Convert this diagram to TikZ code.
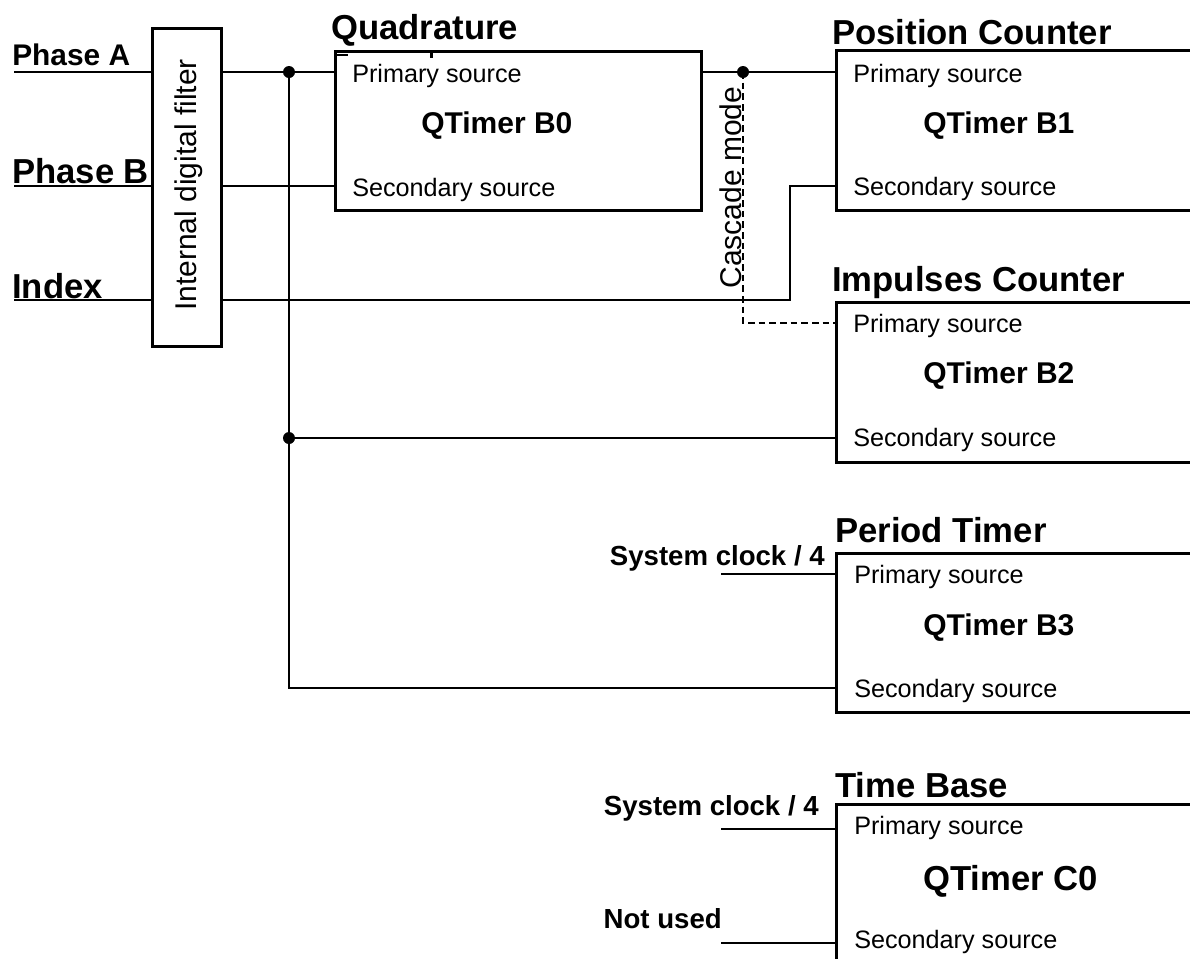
\documentclass[tikz,border=0pt]{standalone}
\usepackage{fontspec}
\setmainfont{Liberation Sans}
\begin{document}
\begin{tikzpicture}[x=0.75pt,y=-0.75pt,
  box/.style={draw, line width=2.25pt, fill=white, inner sep=0, anchor=north west},
  wire/.style={line width=1.1pt},
  cas/.style={line width=1.1pt, dash pattern=on 5pt off 3pt},
  ttl/.style={font=\bfseries\fontsize{26}{30}\selectfont, anchor=base west, inner sep=0},
  src/.style={font=\fontsize{18.9}{22}\selectfont, anchor=base west, inner sep=0},
  qt/.style={font=\bfseries\fontsize{22.5}{26}\selectfont, anchor=base west, inner sep=0},
  inl/.style={font=\bfseries\fontsize{20.7}{24}\selectfont, inner sep=0},
  big/.style={font=\bfseries\fontsize{26}{30}\selectfont, anchor=base west, inner sep=0},
  rot/.style={rotate=90, font=\fontsize{22.5}{26}\selectfont, inner sep=0},
  jdot/.style={circle, fill, draw=none, inner sep=0, minimum size=9pt}
]
\clip (0,0) rectangle (1190,958);
\fill[white] (0,0) rectangle (1190,958);

% titles
\node[ttl] (tq) at (331,39) {Quadrature};
\node[ttl] (tp) at (832,44) {Position Counter};
\node[ttl] (ti) at (832,291) {Impulses Counter};
\node[ttl] (tt) at (835,542) {Period Timer};
\node[ttl] (tb) at (835,797) {Time Base};

% input labels
\node[font=\bfseries\fontsize{22.4}{26}\selectfont, anchor=base west, inner sep=0] (lA) at (12,65) {Phase A};
\node[big] (lB) at (12,183) {Phase B};
\node[big] (lI) at (12,298) {Index};

% filter
\node[box, minimum width=51.75pt, minimum height=238.5pt] (filt) at (151,27) {};
\node[rot] (filttxt) at (189,185) {Internal digital filter};

% boxes
\node[box, minimum width=274.5pt, minimum height=119.25pt] (b0) at (334,50) {};
\node[box, minimum width=296pt, minimum height=120pt] (b1) at (835,49) {};
\node[box, minimum width=296pt, minimum height=120pt] (b2) at (835,301) {};
\node[box, minimum width=296pt, minimum height=119.25pt] (b3) at (835,552) {};
\node[box, minimum width=296pt, minimum height=130pt] (c0) at (835,803) {};

% hidden-title fragments
\fill (336,53.5) rectangle (348,56);
\fill (430,53) rectangle (432.5,57.5);

% box texts
\node[src] (b0p) at (352,82) {Primary source};
\node[qt] (b0n) at (421,133) {QTimer B0};
\node[src] (b0s) at (352,196) {Secondary source};
\node[src] (b1p) at (853,82) {Primary source};
\node[qt] (b1n) at (923,133) {QTimer B1};
\node[src] (b1s) at (853,195) {Secondary source};
\node[src] (b2p) at (853,332) {Primary source};
\node[qt] (b2n) at (923,383) {QTimer B2};
\node[src] (b2s) at (853,446) {Secondary source};
\node[src] (b3p) at (854,583) {Primary source};
\node[qt] (b3n) at (923,635) {QTimer B3};
\node[src] (b3s) at (854,697) {Secondary source};
\node[src] (c0p) at (854,834) {Primary source};
\node[big] (c0n) at (923,890) {QTimer C0};
\node[src] (c0s) at (854,948) {Secondary source};

% cascade label
\node[rot, anchor=base] (casc) at (741,187.5) {Cascade mode};

% external labels
\node[inl, anchor=base east] (sc1t) at (825,565) {System clock / 4};
\node[inl, anchor=base east] (sc2t) at (819,815) {System clock / 4};
\node[inl, anchor=base east] (nut) at (722,928) {Not used};

% coordinates
\coordinate (inA) at (14,72);
\coordinate (inB) at (14,186);
\coordinate (inI) at (14,300);
\coordinate (j1) at (289,72);
\coordinate (j2) at (289,438);
\coordinate (j3) at (743,72);
\coordinate (xk) at (790,186);
\coordinate (sc1) at (721,574);
\coordinate (sc2) at (721,829);
\coordinate (nu) at (721,943);

% wires
\draw[wire] (inA) -- (inA -| filt.west);
\draw[wire] (inB) -- (inB -| filt.west);
\draw[wire] (inI) -- (inI -| filt.west);
\draw[wire] (inA -| filt.east) -- (inA -| b0.west);
\draw[wire] (inB -| filt.east) -- (inB -| b0.west);
\draw[wire] (inI -| filt.east) -| (xk) -- (xk -| b1.west);
\draw[wire] (j1) |- (b3.west |- 0,688);
\draw[wire] (j2) -- (j2 -| b2.west);
\draw[wire] (j3 -| b0.east) -- (j3 -| b1.west);
\draw[cas] (j3) |- (b2.west |- 0,323);
\draw[wire] (sc1) -- (sc1 -| b3.west);
\draw[wire] (sc2) -- (sc2 -| c0.west);
\draw[wire] (nu) -- (nu -| c0.west);

% junction dots
\node[jdot] (d1) at (j1) {};
\node[jdot] (d2) at (j2) {};
\node[jdot] (d3) at (j3) {};
\end{tikzpicture}
\end{document}
